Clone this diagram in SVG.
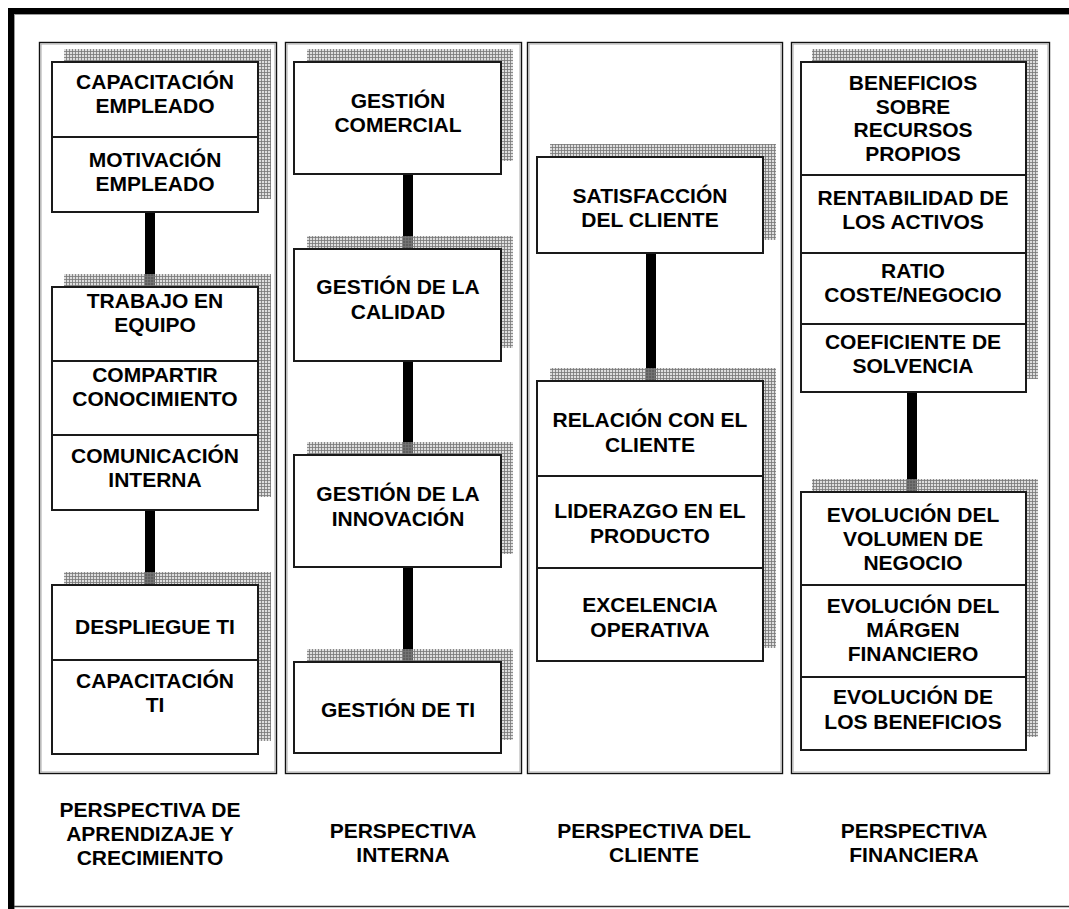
<svg xmlns="http://www.w3.org/2000/svg" width="1069" height="909" viewBox="0 0 1069 909">
  <defs>
    <!-- fine grid used for the drop shadows behind each box -->
    <pattern id="grid" width="3" height="3" patternUnits="userSpaceOnUse">
      <rect width="3" height="3" fill="#bdbdbd" fill-opacity="0.5"/>
      <rect width="1" height="3" fill="#777777" fill-opacity="0.8"/>
      <rect width="3" height="1" fill="#777777" fill-opacity="0.8"/>
    </pattern>
    <style>
      .panel { fill: #ffffff; stroke: #111; stroke-width: 1.4; }
      .panel-in { fill: none; stroke: #a8a8a8; stroke-width: 1; }
      .shadow { fill: url(#grid); }
      .box { fill: #ffffff; stroke: #1a1a1a; stroke-width: 2; }
      .div { stroke: #1a1a1a; stroke-width: 2; }
      .bar { fill: #000; }
      text { font-family: "Liberation Sans", Arial, sans-serif; font-weight: bold; font-size: 21px; fill: #000; text-anchor: middle; }
    </style>
  </defs>

  <rect width="1069" height="909" fill="#ffffff"/>

  <!-- outer frame -->
  <g id="frame">
    <rect x="8" y="8" width="1061" height="6" fill="#000"/>
    <rect x="8" y="8" width="6" height="901" fill="#000"/>
    <line x1="14" y1="14.5" x2="1069" y2="14.5" stroke="#9a9a9a" stroke-width="1"/>
    <line x1="14.5" y1="14" x2="14.5" y2="909" stroke="#9a9a9a" stroke-width="1"/>
    <line x1="14" y1="906.5" x2="1069" y2="906.5" stroke="#333" stroke-width="1.5"/>
  </g>

  <!-- perspective columns -->
  <g id="columns">
    <rect class="panel" x="39.5" y="42.5" width="237" height="731"/>
    <rect class="panel-in" x="41" y="44" width="234" height="728"/>
    <rect class="panel" x="285.5" y="42.5" width="236" height="731"/>
    <rect class="panel-in" x="287" y="44" width="233" height="728"/>
    <rect class="panel" x="527.5" y="42.5" width="255" height="731"/>
    <rect class="panel-in" x="529" y="44" width="252" height="728"/>
    <rect class="panel" x="791.5" y="42.5" width="258" height="731"/>
    <rect class="panel-in" x="793" y="44" width="255" height="728"/>
  </g>

  <!-- connectors between boxes -->
  <g id="connectors">
    <rect class="bar" x="145" y="212" width="10" height="75"/>
    <rect class="bar" x="145" y="510" width="10" height="75"/>
    <rect class="bar" x="403" y="174" width="10" height="75"/>
    <rect class="bar" x="403" y="361" width="10" height="94"/>
    <rect class="bar" x="403" y="567" width="10" height="95"/>
    <rect class="bar" x="646" y="253" width="10" height="128"/>
    <rect class="bar" x="907" y="392" width="10" height="100"/>
  </g>

  <!-- Perspectiva de aprendizaje y crecimiento -->
  <g id="empleado">
    <rect class="shadow" x="64" y="49" width="207" height="150"/>
    <rect class="box" x="52" y="62" width="206" height="150"/>
    <line class="div" x1="52" y1="137" x2="258" y2="137"/>
    <text x="155" y="89">CAPACITACIÓN</text>
    <text x="155" y="113">EMPLEADO</text>
    <text x="155" y="167">MOTIVACIÓN</text>
    <text x="155" y="191">EMPLEADO</text>
  </g>
  <g id="equipo">
    <rect class="shadow" x="64" y="274" width="207" height="223"/>
    <rect class="box" x="52" y="287" width="206" height="223"/>
    <line class="div" x1="52" y1="361" x2="258" y2="361"/>
    <line class="div" x1="52" y1="435" x2="258" y2="435"/>
    <text x="155" y="308">TRABAJO EN</text>
    <text x="155" y="332">EQUIPO</text>
    <text x="155" y="382">COMPARTIR</text>
    <text x="155" y="406">CONOCIMIENTO</text>
    <text x="155" y="463">COMUNICACIÓN</text>
    <text x="155" y="487">INTERNA</text>
  </g>
  <g id="ti">
    <rect class="shadow" x="64" y="572" width="207" height="169"/>
    <rect class="box" x="52" y="585" width="206" height="169"/>
    <line class="div" x1="52" y1="660" x2="258" y2="660"/>
    <text x="155" y="634">DESPLIEGUE TI</text>
    <text x="155" y="688">CAPACITACIÓN</text>
    <text x="155" y="712">TI</text>
  </g>

  <!-- Perspectiva interna -->
  <g id="gestion-comercial">
    <rect class="shadow" x="307" y="49" width="206" height="112"/>
    <rect class="box" x="294" y="62" width="207" height="112"/>
    <text x="398" y="108">GESTIÓN</text>
    <text x="398" y="132">COMERCIAL</text>
  </g>
  <g id="gestion-calidad">
    <rect class="shadow" x="307" y="236" width="206" height="112"/>
    <rect class="box" x="294" y="249" width="207" height="112"/>
    <text x="398" y="294">GESTIÓN DE LA</text>
    <text x="398" y="319">CALIDAD</text>
  </g>
  <g id="gestion-innovacion">
    <rect class="shadow" x="307" y="442" width="206" height="112"/>
    <rect class="box" x="294" y="455" width="207" height="112"/>
    <text x="398" y="501">GESTIÓN DE LA</text>
    <text x="398" y="526">INNOVACIÓN</text>
  </g>
  <g id="gestion-ti">
    <rect class="shadow" x="307" y="649" width="206" height="91"/>
    <rect class="box" x="294" y="662" width="207" height="91"/>
    <text x="398" y="717">GESTIÓN DE TI</text>
  </g>

  <!-- Perspectiva del cliente -->
  <g id="satisfaccion">
    <rect class="shadow" x="550" y="144" width="226" height="96"/>
    <rect class="box" x="537" y="157" width="226" height="96"/>
    <text x="650" y="203">SATISFACCIÓN</text>
    <text x="650" y="227">DEL CLIENTE</text>
  </g>
  <g id="propuesta-valor">
    <rect class="shadow" x="550" y="368" width="226" height="280"/>
    <rect class="box" x="537" y="381" width="226" height="280"/>
    <line class="div" x1="537" y1="476" x2="763" y2="476"/>
    <line class="div" x1="537" y1="568" x2="763" y2="568"/>
    <text x="650" y="427">RELACIÓN CON EL</text>
    <text x="650" y="452">CLIENTE</text>
    <text x="650" y="518">LIDERAZGO EN EL</text>
    <text x="650" y="543">PRODUCTO</text>
    <text x="650" y="612">EXCELENCIA</text>
    <text x="650" y="637">OPERATIVA</text>
  </g>

  <!-- Perspectiva financiera -->
  <g id="ratios">
    <rect class="shadow" x="812" y="49" width="226" height="330"/>
    <rect class="box" x="801" y="62" width="225" height="330"/>
    <line class="div" x1="801" y1="175" x2="1026" y2="175"/>
    <line class="div" x1="801" y1="253" x2="1026" y2="253"/>
    <line class="div" x1="801" y1="324" x2="1026" y2="324"/>
    <text x="913" y="90">BENEFICIOS</text>
    <text x="913" y="114">SOBRE</text>
    <text x="913" y="137">RECURSOS</text>
    <text x="913" y="161">PROPIOS</text>
    <text x="913" y="205">RENTABILIDAD DE</text>
    <text x="913" y="229">LOS ACTIVOS</text>
    <text x="913" y="278">RATIO</text>
    <text x="913" y="302">COSTE/NEGOCIO</text>
    <text x="913" y="349">COEFICIENTE DE</text>
    <text x="913" y="373">SOLVENCIA</text>
  </g>
  <g id="evolucion">
    <rect class="shadow" x="812" y="479" width="226" height="258"/>
    <rect class="box" x="801" y="492" width="225" height="258"/>
    <line class="div" x1="801" y1="585" x2="1026" y2="585"/>
    <line class="div" x1="801" y1="677" x2="1026" y2="677"/>
    <text x="913" y="522">EVOLUCIÓN DEL</text>
    <text x="913" y="546">VOLUMEN DE</text>
    <text x="913" y="570">NEGOCIO</text>
    <text x="913" y="613">EVOLUCIÓN DEL</text>
    <text x="913" y="637">MÁRGEN</text>
    <text x="913" y="661">FINANCIERO</text>
    <text x="913" y="704">EVOLUCIÓN DE</text>
    <text x="913" y="729">LOS BENEFICIOS</text>
  </g>

  <!-- column captions -->
  <g id="captions">
    <text x="150" y="817">PERSPECTIVA DE</text>
    <text x="150" y="841">APRENDIZAJE Y</text>
    <text x="150" y="865">CRECIMIENTO</text>
    <text x="403" y="838">PERSPECTIVA</text>
    <text x="403" y="862">INTERNA</text>
    <text x="654" y="838">PERSPECTIVA DEL</text>
    <text x="654" y="862">CLIENTE</text>
    <text x="914" y="838">PERSPECTIVA</text>
    <text x="914" y="862">FINANCIERA</text>
  </g>
</svg>
